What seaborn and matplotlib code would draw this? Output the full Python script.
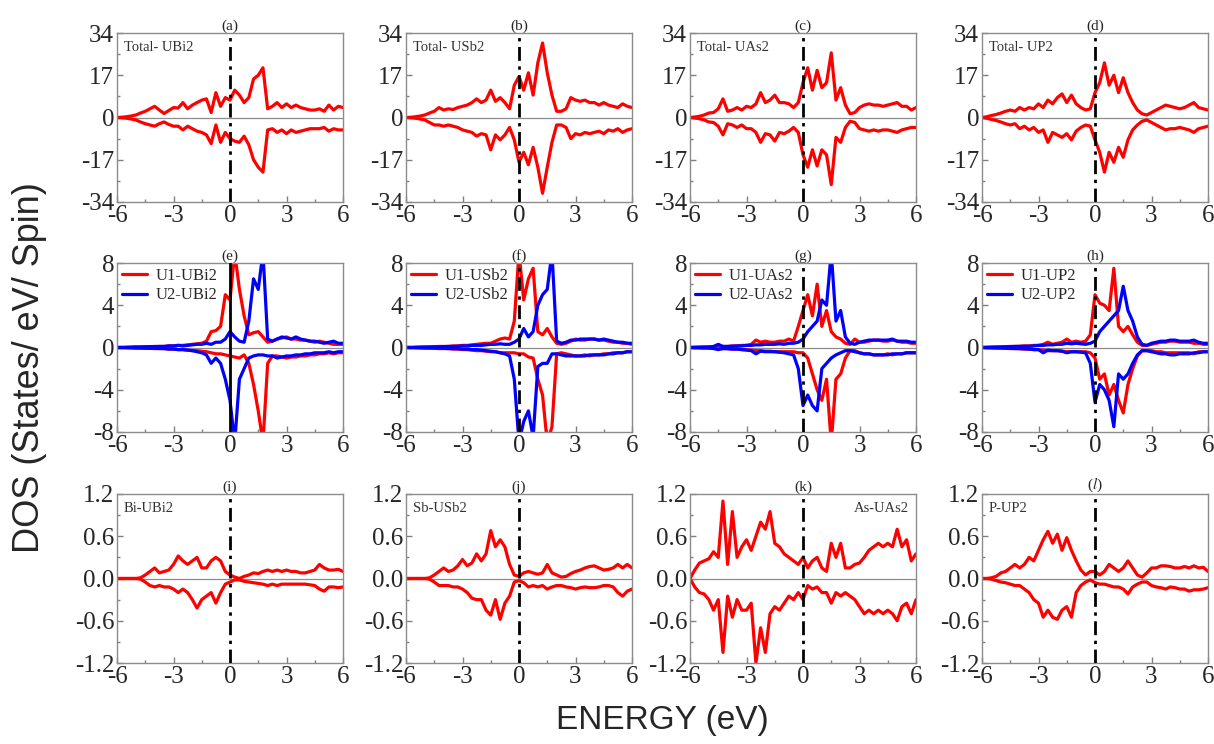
import matplotlib
matplotlib.use("Agg")
import matplotlib.pyplot as plt
import numpy as np
import seaborn as sns

# energy grid (eV), shared by every curve
ENERGY = [-6.0, -5.75, -5.5, -5.25, -5.0, -4.75, -4.5, -4.25, -4.0,
          -3.75, -3.5, -3.25, -3.0, -2.75, -2.5, -2.25, -2.0,
          -1.75, -1.5, -1.25, -1.0, -0.75, -0.5, -0.25, 0.0,
          0.25, 0.5, 0.75, 1.0, 1.25, 1.5, 1.75, 2.0,
          2.25, 2.5, 2.75, 3.0, 3.25, 3.5, 3.75, 4.0,
          4.25, 4.5, 4.75, 5.0, 5.25, 5.5, 5.75, 6.0]

# ---- row 1: total DOS (spin up / spin down magnitude)
TOT_UBI2_UP = [0, 0.1, 0.3, 0.6, 1.0, 1.8, 2.5, 3.5, 4.5,
               3.0, 1.6, 2.8, 4.0, 3.8, 6.0, 3.5, 5.0,
               6.0, 7.0, 7.5, 2.0, 10.0, 4.5, 8.0, 7.0,
               11.0, 9.0, 6.0, 8.0, 15.5, 17.0, 20.0, 3.5,
               4.5, 6.0, 4.0, 5.5, 4.0, 5.0, 4.0, 3.5,
               3.0, 3.0, 3.5, 2.5, 5.0, 3.0, 4.5, 4.0]
TOT_UBI2_DN = [0, 0.1, 0.3, 0.6, 1.0, 1.8, 2.5, 3.0, 3.5,
               2.5, 1.8, 2.8, 3.5, 3.5, 5.0, 3.5, 4.5,
               5.5, 6.0, 7.0, 10.5, 3.0, 10.0, 6.0, 8.5,
               9.5, 10.0, 7.5, 11.0, 17.0, 20.0, 22.0, 5.0,
               4.5, 6.0, 5.0, 6.5, 5.0, 6.0, 5.5, 5.0,
               4.5, 4.5, 4.5, 4.0, 5.5, 4.5, 5.0, 5.0]
TOT_USB2_UP = [0, 0.1, 0.3, 0.6, 1.0, 1.8, 2.5, 4.0, 3.0,
               3.5, 3.2, 4.0, 4.5, 5.0, 6.0, 7.5, 6.0,
               7.0, 11.0, 6.5, 8.0, 6.0, 3.5, 13.0, 16.5,
               11.0, 18.0, 9.0, 22.0, 30.0, 18.0, 9.0, 2.5,
               2.5, 3.5, 8.0, 7.0, 6.5, 7.0, 6.0, 6.0,
               5.0, 6.0, 5.0, 4.5, 4.0, 5.5, 4.5, 4.0]
TOT_USB2_DN = [0, 0.1, 0.3, 0.6, 1.0, 2.0, 3.0, 3.0, 3.5,
               3.0, 3.5, 4.0, 5.0, 5.5, 6.0, 7.5, 6.5,
               7.0, 13.0, 7.0, 9.0, 7.0, 4.0, 9.0, 18.0,
               14.0, 19.0, 12.0, 20.0, 30.5, 20.0, 10.0, 3.0,
               3.0, 4.0, 8.5, 6.5, 7.0, 6.0, 6.5, 6.0,
               5.5, 6.5, 5.0, 5.5, 4.5, 6.0, 5.0, 4.5]
TOT_UAS2_UP = [0, 0.2, 0.5, 1.0, 1.8, 2.0, 3.5, 7.5, 2.5,
               3.0, 4.0, 3.0, 4.5, 4.0, 5.5, 10.0, 6.0,
               7.0, 9.0, 6.0, 6.0, 5.5, 4.0, 6.0, 14.0,
               20.0, 11.0, 19.0, 12.0, 14.0, 26.0, 7.0, 12.0,
               5.0, 1.5, 2.0, 4.0, 5.0, 5.5, 5.0, 5.0,
               4.5, 5.0, 5.5, 6.0, 4.5, 4.5, 3.0, 4.0]
TOT_UAS2_DN = [0, 0.2, 0.5, 1.0, 1.8, 2.0, 3.5, 7.0, 2.5,
               3.0, 4.0, 3.0, 4.5, 4.5, 6.0, 10.0, 6.5,
               7.0, 9.5, 6.0, 6.5, 5.5, 4.0, 6.0, 15.0,
               20.0, 13.0, 19.5, 13.0, 15.0, 27.0, 8.0, 10.0,
               4.0, 1.5, 2.0, 4.5, 5.0, 5.5, 5.0, 5.5,
               5.0, 5.0, 5.5, 6.0, 5.0, 4.5, 4.0, 4.0]
TOT_UP2_UP = [0, 0.3, 0.8, 1.2, 1.8, 2.5, 3.0, 2.5, 4.0,
              3.0, 4.0, 3.5, 5.5, 4.0, 7.0, 5.5, 8.0,
              9.5, 6.0, 9.0, 5.5, 4.0, 3.0, 3.5, 10.0,
              14.0, 22.0, 13.0, 17.0, 10.0, 16.0, 10.0, 6.0,
              3.0, 1.5, 1.0, 2.0, 3.0, 4.0, 5.0, 4.5,
              4.0, 3.5, 4.0, 5.0, 6.0, 4.0, 3.5, 3.0]
TOT_UP2_DN = [0, 0.3, 0.8, 1.2, 1.8, 2.5, 3.0, 2.5, 4.5,
              3.5, 5.0, 4.0, 6.0, 5.0, 10.0, 6.0, 7.0,
              8.0, 6.5, 9.0, 5.5, 4.0, 3.0, 3.5, 9.0,
              14.0, 22.0, 14.0, 18.0, 12.0, 16.0, 9.0, 5.0,
              3.0, 1.5, 1.0, 2.0, 3.0, 4.0, 5.0, 4.5,
              4.5, 4.0, 4.5, 5.0, 6.0, 4.5, 4.0, 3.5]

# ---- row 2: U1 / U2 partial DOS
U1_UBI2_UP = [0.0, 0.0, 0.02, 0.03, 0.05, 0.05, 0.08, 0.08, 0.1,
              0.1, 0.1, 0.15, 0.15, 0.2, 0.2, 0.25, 0.3,
              0.35, 0.4, 0.6, 1.5, 1.6, 2.0, 5.0, 4.5,
              9.0, 5.5, 3.0, 1.2, 1.4, 1.5, 1.0, 0.5,
              0.6, 0.8, 0.9, 1.0, 0.8, 0.8, 0.7, 0.7,
              0.6, 0.5, 0.6, 0.5, 0.4, 0.3, 0.3, 0.3]
U2_UBI2_UP = [0.0, 0.0, 0.02, 0.03, 0.05, 0.05, 0.06, 0.08, 0.08,
              0.1, 0.1, 0.15, 0.15, 0.2, 0.15, 0.2, 0.25,
              0.3, 0.3, 0.4, 0.3, 0.5, 0.5, 0.8, 1.5,
              1.0, 0.6, 0.5, 2.5, 6.5, 5.5, 9.0, 0.8,
              0.6, 0.8, 1.0, 0.9, 0.8, 1.0, 0.8, 0.7,
              0.6, 0.6, 0.5, 0.4, 0.5, 0.6, 0.4, 0.4]
U1_UBI2_DN = [0.0, 0.0, 0.02, 0.03, 0.05, 0.05, 0.08, 0.08, 0.1,
              0.1, 0.1, 0.15, 0.15, 0.2, 0.2, 0.25, 0.3,
              0.3, 0.35, 0.4, 0.5, 0.6, 0.6, 0.7, 0.8,
              0.9, 1.0, 0.7, 1.5, 3.5, 6.0, 9.0, 1.5,
              0.8, 0.8, 0.9, 1.0, 0.9, 0.9, 0.8, 0.8,
              0.7, 0.7, 0.6, 0.6, 0.5, 0.6, 0.5, 0.5]
U2_UBI2_DN = [0.0, 0.0, 0.02, 0.03, 0.05, 0.05, 0.06, 0.08, 0.08,
              0.1, 0.1, 0.15, 0.15, 0.2, 0.2, 0.25, 0.3,
              0.4, 0.5, 0.7, 1.5, 1.0, 1.5, 3.0, 5.0,
              9.0, 3.0, 2.0, 1.0, 0.8, 0.7, 0.7, 0.8,
              0.8, 1.0, 0.9, 0.8, 0.8, 0.7, 0.7, 0.6,
              0.6, 0.5, 0.5, 0.5, 0.4, 0.5, 0.4, 0.4]
U1_USB2_UP = [0.0, 0.0, 0.02, 0.03, 0.05, 0.05, 0.08, 0.1, 0.1,
              0.1, 0.15, 0.15, 0.2, 0.2, 0.25, 0.3, 0.35,
              0.4, 0.4, 0.6, 0.8, 0.9, 0.8, 2.5, 9.0,
              4.5, 6.5, 7.5, 1.5, 1.2, 1.8, 1.0, 0.4,
              0.3, 0.4, 0.6, 0.8, 0.7, 0.7, 0.8, 0.8,
              0.7, 0.7, 0.6, 0.5, 0.5, 0.4, 0.4, 0.3]
U2_USB2_UP = [0.0, 0.0, 0.02, 0.03, 0.04, 0.05, 0.05, 0.06, 0.08,
              0.1, 0.1, 0.12, 0.15, 0.15, 0.2, 0.2, 0.2,
              0.25, 0.3, 0.3, 0.35, 0.3, 0.3, 0.5, 0.8,
              1.8, 1.0, 1.5, 4.0, 5.0, 5.5, 9.0, 0.6,
              0.4, 0.5, 0.7, 0.7, 0.8, 0.8, 0.8, 0.8,
              0.7, 0.8, 0.7, 0.6, 0.5, 0.5, 0.4, 0.4]
U1_USB2_DN = [0.0, 0.0, 0.02, 0.03, 0.05, 0.05, 0.08, 0.1, 0.1,
              0.1, 0.15, 0.15, 0.2, 0.2, 0.25, 0.3, 0.3,
              0.35, 0.4, 0.4, 0.5, 0.5, 0.5, 0.5, 0.6,
              0.6, 0.9, 1.0, 3.0, 4.5, 9.0, 7.5, 0.6,
              0.5, 0.6, 0.7, 0.8, 0.8, 0.7, 0.8, 0.7,
              0.7, 0.6, 0.6, 0.5, 0.5, 0.5, 0.4, 0.4]
U2_USB2_DN = [0.0, 0.0, 0.02, 0.03, 0.04, 0.05, 0.05, 0.06, 0.08,
              0.1, 0.1, 0.12, 0.15, 0.15, 0.2, 0.2, 0.25,
              0.3, 0.35, 0.4, 0.5, 0.6, 0.8, 3.0, 9.0,
              7.0, 6.0, 8.5, 1.8, 1.5, 1.5, 0.6, 0.6,
              0.7, 0.8, 0.8, 0.8, 0.8, 0.8, 0.7, 0.7,
              0.7, 0.7, 0.6, 0.6, 0.5, 0.5, 0.4, 0.4]
U1_UAS2_UP = [0.0, 0.02, 0.03, 0.05, 0.05, 0.08, 0.1, 0.1, 0.1,
              0.15, 0.15, 0.2, 0.2, 0.3, 0.7, 0.5, 0.6,
              0.5, 0.5, 0.6, 0.6, 0.8, 0.6, 2.0, 3.5,
              5.0, 3.0, 6.0, 2.0, 3.5, 1.5, 1.0, 0.8,
              0.4, 0.3, 0.8, 0.5, 0.5, 0.6, 0.7, 0.7,
              0.6, 0.6, 0.7, 0.6, 0.5, 0.5, 0.4, 0.4]
U2_UAS2_UP = [0.0, 0.02, 0.03, 0.04, 0.05, 0.1, 0.3, 0.1, 0.1,
              0.12, 0.15, 0.15, 0.2, 0.2, 0.25, 0.25, 0.3,
              0.3, 0.3, 0.35, 0.3, 0.4, 0.4, 0.5, 0.8,
              1.5, 2.0, 2.5, 4.5, 4.0, 9.0, 2.5, 3.5,
              1.0, 0.4, 0.3, 0.5, 0.6, 0.7, 0.7, 0.7,
              0.7, 0.7, 0.8, 0.6, 0.6, 0.6, 0.5, 0.5]
U1_UAS2_DN = [0.0, 0.02, 0.03, 0.05, 0.05, 0.08, 0.1, 0.1, 0.1,
              0.15, 0.15, 0.2, 0.2, 0.25, 0.3, 0.3, 0.35,
              0.35, 0.4, 0.4, 0.4, 0.4, 0.4, 0.5, 0.5,
              1.0, 2.5, 4.0, 5.0, 3.0, 9.0, 3.0, 2.5,
              1.0, 0.3, 0.3, 0.5, 0.6, 0.6, 0.7, 0.7,
              0.7, 0.6, 0.7, 0.6, 0.6, 0.5, 0.5, 0.5]
U2_UAS2_DN = [0.0, 0.02, 0.03, 0.04, 0.05, 0.1, 0.2, 0.1, 0.12,
              0.15, 0.15, 0.2, 0.25, 0.3, 0.6, 0.35, 0.4,
              0.4, 0.4, 0.45, 0.5, 0.6, 0.7, 2.0, 5.5,
              4.5, 5.5, 6.0, 2.0, 1.5, 1.0, 0.7, 0.5,
              0.3, 0.3, 0.4, 0.5, 0.6, 0.6, 0.7, 0.7,
              0.7, 0.7, 0.6, 0.6, 0.6, 0.5, 0.5, 0.5]
U1_UP2_UP = [0.0, 0.02, 0.03, 0.05, 0.05, 0.08, 0.1, 0.1, 0.12,
             0.15, 0.15, 0.2, 0.2, 0.3, 0.5, 0.3, 0.4,
             0.5, 0.8, 0.5, 0.6, 0.5, 0.6, 1.2, 5.0,
             4.2, 4.0, 3.5, 7.5, 2.0, 1.5, 2.0, 1.2,
             0.5, 0.2, 0.2, 0.3, 0.4, 0.5, 0.5, 0.6,
             0.6, 0.5, 0.5, 0.5, 0.4, 0.4, 0.3, 0.3]
U2_UP2_UP = [0.0, 0.02, 0.03, 0.04, 0.05, 0.06, 0.08, 0.1, 0.1,
             0.12, 0.12, 0.15, 0.2, 0.2, 0.25, 0.25, 0.3,
             0.3, 0.4, 0.35, 0.4, 0.35, 0.3, 0.4, 0.6,
             1.5, 2.0, 2.5, 3.0, 3.5, 5.8, 3.5, 2.5,
             1.0, 0.3, 0.2, 0.4, 0.5, 0.6, 0.6, 0.7,
             0.7, 0.6, 0.6, 0.6, 0.7, 0.5, 0.4, 0.4]
U1_UP2_DN = [0.0, 0.02, 0.03, 0.05, 0.05, 0.08, 0.1, 0.1, 0.12,
             0.15, 0.15, 0.2, 0.2, 0.25, 0.3, 0.3, 0.3,
             0.35, 0.4, 0.4, 0.4, 0.4, 0.4, 0.5, 1.0,
             3.0, 2.5, 4.5, 3.5, 5.0, 6.2, 3.5, 2.0,
             0.8, 0.3, 0.3, 0.3, 0.4, 0.4, 0.5, 0.5,
             0.5, 0.5, 0.5, 0.5, 0.6, 0.4, 0.4, 0.4]
U2_UP2_DN = [0.0, 0.02, 0.03, 0.04, 0.05, 0.06, 0.08, 0.1, 0.1,
             0.12, 0.15, 0.2, 0.2, 0.5, 0.25, 0.3, 0.3,
             0.35, 0.5, 0.4, 0.4, 0.45, 0.5, 1.5, 5.2,
             3.5, 4.0, 5.0, 7.5, 2.5, 3.0, 2.5, 1.5,
             0.7, 0.3, 0.3, 0.4, 0.5, 0.6, 0.6, 0.7,
             0.7, 0.6, 0.6, 0.6, 0.5, 0.5, 0.4, 0.4]

# ---- row 3: pnictogen partial DOS
BI_UBI2_UP = [0.0, 0.0, 0.0, 0.0, 0.0, 0.01, 0.05, 0.1, 0.15,
              0.08, 0.1, 0.12, 0.2, 0.32, 0.25, 0.2, 0.25,
              0.3, 0.15, 0.15, 0.25, 0.3, 0.25, 0.1, 0.05,
              0.02, 0.0, 0.03, 0.05, 0.08, 0.07, 0.1, 0.12,
              0.1, 0.12, 0.1, 0.12, 0.1, 0.1, 0.08, 0.08,
              0.1, 0.12, 0.2, 0.15, 0.12, 0.12, 0.13, 0.1]
BI_UBI2_DN = [0.0, 0.0, 0.0, 0.0, 0.0, 0.01, 0.05, 0.1, 0.12,
              0.1, 0.12, 0.12, 0.15, 0.2, 0.15, 0.2, 0.3,
              0.42, 0.3, 0.25, 0.2, 0.35, 0.2, 0.08, 0.05,
              0.02, 0.02, 0.04, 0.05, 0.06, 0.07, 0.08, 0.1,
              0.08, 0.1, 0.08, 0.08, 0.08, 0.08, 0.08, 0.08,
              0.09, 0.1, 0.15, 0.18, 0.12, 0.12, 0.13, 0.12]
SB_USB2_UP = [0.0, 0.0, 0.0, 0.0, 0.0, 0.01, 0.05, 0.1, 0.15,
              0.1, 0.12, 0.18, 0.27, 0.18, 0.22, 0.35, 0.25,
              0.35, 0.68, 0.45, 0.55, 0.45, 0.2, 0.05, 0.03,
              0.08, 0.1, 0.08, 0.06, 0.08, 0.2, 0.08, 0.05,
              0.02, 0.03, 0.07, 0.1, 0.12, 0.15, 0.17, 0.18,
              0.15, 0.12, 0.13, 0.15, 0.2, 0.15, 0.2, 0.15]
SB_USB2_DN = [0.0, 0.0, 0.0, 0.0, 0.0, 0.01, 0.05, 0.1, 0.1,
              0.1, 0.12, 0.12, 0.15, 0.2, 0.28, 0.3, 0.3,
              0.45, 0.52, 0.3, 0.58, 0.35, 0.25, 0.05, 0.03,
              0.06, 0.12, 0.1, 0.12, 0.1, 0.15, 0.12, 0.1,
              0.1, 0.12, 0.13, 0.15, 0.13, 0.12, 0.13, 0.13,
              0.12, 0.1, 0.1, 0.12, 0.2, 0.25, 0.18, 0.15]
AS_UAS2_UP = [0.0, 0.12, 0.22, 0.25, 0.28, 0.38, 0.3, 1.1, 0.2,
              0.95, 0.3, 0.45, 0.55, 0.4, 0.6, 0.8, 0.7,
              0.95, 0.5, 0.45, 0.35, 0.3, 0.25, 0.2, 0.3,
              0.15, 0.25, 0.3, 0.15, 0.1, 0.5, 0.3, 0.5,
              0.15, 0.15, 0.2, 0.22, 0.3, 0.4, 0.45, 0.5,
              0.45, 0.5, 0.45, 0.7, 0.45, 0.55, 0.25, 0.35]
AS_UAS2_DN = [0.0, 0.12, 0.2, 0.22, 0.3, 0.45, 0.3, 1.05, 0.25,
              0.55, 0.3, 0.45, 0.45, 0.35, 1.2, 0.7, 1.05,
              0.5, 0.4, 0.45, 0.35, 0.25, 0.3, 0.2, 0.3,
              0.1, 0.15, 0.12, 0.2, 0.2, 0.35, 0.2, 0.25,
              0.2, 0.25, 0.3, 0.4, 0.5, 0.45, 0.5, 0.45,
              0.5, 0.45, 0.5, 0.6, 0.4, 0.35, 0.5, 0.3]
P_UP2_UP = [0.0, 0.0, 0.01, 0.03, 0.08, 0.1, 0.15, 0.2, 0.15,
            0.2, 0.3, 0.25, 0.4, 0.55, 0.67, 0.5, 0.63,
            0.4, 0.58, 0.4, 0.25, 0.12, 0.05, 0.1, 0.1,
            0.05, 0.1, 0.2, 0.15, 0.1, 0.15, 0.25, 0.15,
            0.05, 0.02, 0.08, 0.15, 0.15, 0.18, 0.18, 0.17,
            0.15, 0.15, 0.17, 0.15, 0.18, 0.15, 0.16, 0.1]
P_UP2_DN = [0.0, 0.0, 0.01, 0.03, 0.05, 0.06, 0.08, 0.1, 0.1,
            0.15, 0.2, 0.3, 0.35, 0.55, 0.45, 0.55, 0.58,
            0.45, 0.4, 0.55, 0.2, 0.1, 0.05, 0.02, 0.06,
            0.08, 0.08, 0.1, 0.12, 0.12, 0.15, 0.22, 0.12,
            0.08, 0.05, 0.05, 0.1, 0.12, 0.13, 0.15, 0.12,
            0.13, 0.15, 0.15, 0.18, 0.16, 0.16, 0.15, 0.13]

COMPOUNDS = ["UBi2", "USb2", "UAs2", "UP2"]
ATOMS = ["Bi", "Sb", "As", "P"]
LETTERS = [["(a)", "(b)", "(c)", "(d)"],
           ["(e)", "(f)", "(g)", "(h)"],
           ["(i)", "(j)", "(k)", r"($\mathit{l}$)"]]
X_TICKS = [-6, -3, 0, 3, 6]
Y_TICKS = [[-34, -17, 0, 17, 34], [-8, -4, 0, 4, 8], [-1.2, -0.6, 0.0, 0.6, 1.2]]
Y_MINOR = [8.5, 2, 0.3]

TOTAL = [(TOT_UBI2_UP, TOT_UBI2_DN), (TOT_USB2_UP, TOT_USB2_DN),
         (TOT_UAS2_UP, TOT_UAS2_DN), (TOT_UP2_UP, TOT_UP2_DN)]
U_SITES = [(U1_UBI2_UP, U1_UBI2_DN, U2_UBI2_UP, U2_UBI2_DN),
           (U1_USB2_UP, U1_USB2_DN, U2_USB2_UP, U2_USB2_DN),
           (U1_UAS2_UP, U1_UAS2_DN, U2_UAS2_UP, U2_UAS2_DN),
           (U1_UP2_UP, U1_UP2_DN, U2_UP2_UP, U2_UP2_DN)]
ANION = [(BI_UBI2_UP, BI_UBI2_DN), (SB_USB2_UP, SB_USB2_DN),
         (AS_UAS2_UP, AS_UAS2_DN), (P_UP2_UP, P_UP2_DN)]

sns.set_theme(style="ticks")
plt.rcParams["font.family"] = ["Liberation Serif", "DejaVu Serif"]
plt.rcParams["mathtext.fontset"] = "stix"
plt.rcParams["axes.unicode_minus"] = False

W, H = 1214, 744
fig = plt.figure(figsize=(W / 100, H / 100), dpi=100)

col_left = [117, 406, 690, 982]
row_top = [33, 263, 494]
aw, ah = 226, 169

RED = "#ff0000"
BLUE = "#0000ff"
LW = 2.3


def line(ax, y, color, label=None):
    sns.lineplot(x=ENERGY, y=y, ax=ax, color=color, lw=LW, label=label,
                 estimator=None, legend=label is not None)


for r in range(3):
    for c in range(4):
        ax = fig.add_axes([col_left[c] / W, 1 - (row_top[r] + ah) / H, aw / W, ah / H])
        ax.axhline(0, color="#8c8c8c", lw=0.9, zorder=1)

        if r == 0:
            up, dn = TOTAL[c]
            line(ax, np.array(up), RED)
            line(ax, -np.array(dn), RED)
            ax.text(0.03, 0.95, "Total- " + COMPOUNDS[c], transform=ax.transAxes,
                    ha="left", va="top", fontsize=10.5, color="#333333")
        elif r == 1:
            u1u, u1d, u2u, u2d = U_SITES[c]
            line(ax, np.array(u1u), RED, "U1-" + COMPOUNDS[c])
            line(ax, -np.array(u1d), RED)
            line(ax, np.array(u2u), BLUE, "U2-" + COMPOUNDS[c])
            line(ax, -np.array(u2d), BLUE)
            h, l = ax.get_legend_handles_labels()
            ax.legend(h[:2], l[:2], loc="upper left", frameon=False, fontsize=12,
                      handlelength=1.5, handletextpad=0.5, labelspacing=0.2,
                      borderaxespad=0.1, borderpad=0.2)
        else:
            up, dn = ANION[c]
            line(ax, np.array(up), RED)
            line(ax, -np.array(dn), RED)
            if c == 2:
                ax.text(0.97, 0.95, ATOMS[c] + "-" + COMPOUNDS[c], transform=ax.transAxes,
                        ha="right", va="top", fontsize=10.5, color="#333333")
            else:
                ax.text(0.03, 0.95, ATOMS[c] + "-" + COMPOUNDS[c], transform=ax.transAxes,
                        ha="left", va="top", fontsize=10.5, color="#333333")

        if r == 1 and c == 0:
            ax.axvline(0, color="black", lw=2.0, zorder=4)
        else:
            ax.axvline(0, color="black", lw=2.0, ls=(0, (5, 2, 1.2, 2)), zorder=4)

        ax.set_xlim(-6, 6)
        lim = Y_TICKS[r][-1]
        ax.set_ylim(-lim, lim)
        ax.set_xticks(X_TICKS)
        ax.set_xticks([-4.5, -1.5, 1.5, 4.5], minor=True)
        ax.set_yticks(Y_TICKS[r])
        ax.set_yticks(np.arange(-lim + Y_MINOR[r], lim, Y_MINOR[r] * 2), minor=True)
        if r == 2:
            ax.set_yticklabels([f"{v:.1f}" for v in Y_TICKS[r]])
        ax.set_xlabel("")
        ax.set_ylabel("")
        ax.tick_params(which="both", direction="in", color="#808080", labelsize=18,
                       pad=2, width=1)
        ax.tick_params(which="major", length=4)
        ax.tick_params(which="minor", length=2.5)
        for s in ax.spines.values():
            s.set_color("#8c8c8c")
            s.set_linewidth(1.0)

        ax.text(0, 1.0, LETTERS[r][c], transform=ax.get_xaxis_transform(),
                ha="center", va="bottom", fontsize=11)

fig.text(30 / W, 1 - 368 / H, "DOS (States/ eV/ Spin)", rotation=90, ha="center",
         va="center", fontsize=26, family="Liberation Sans")
fig.text(662 / W, 1 - 721 / H, "ENERGY (eV)", ha="center", va="center",
         fontsize=24, family="Liberation Sans")

fig.savefig("out.png", dpi=100)
